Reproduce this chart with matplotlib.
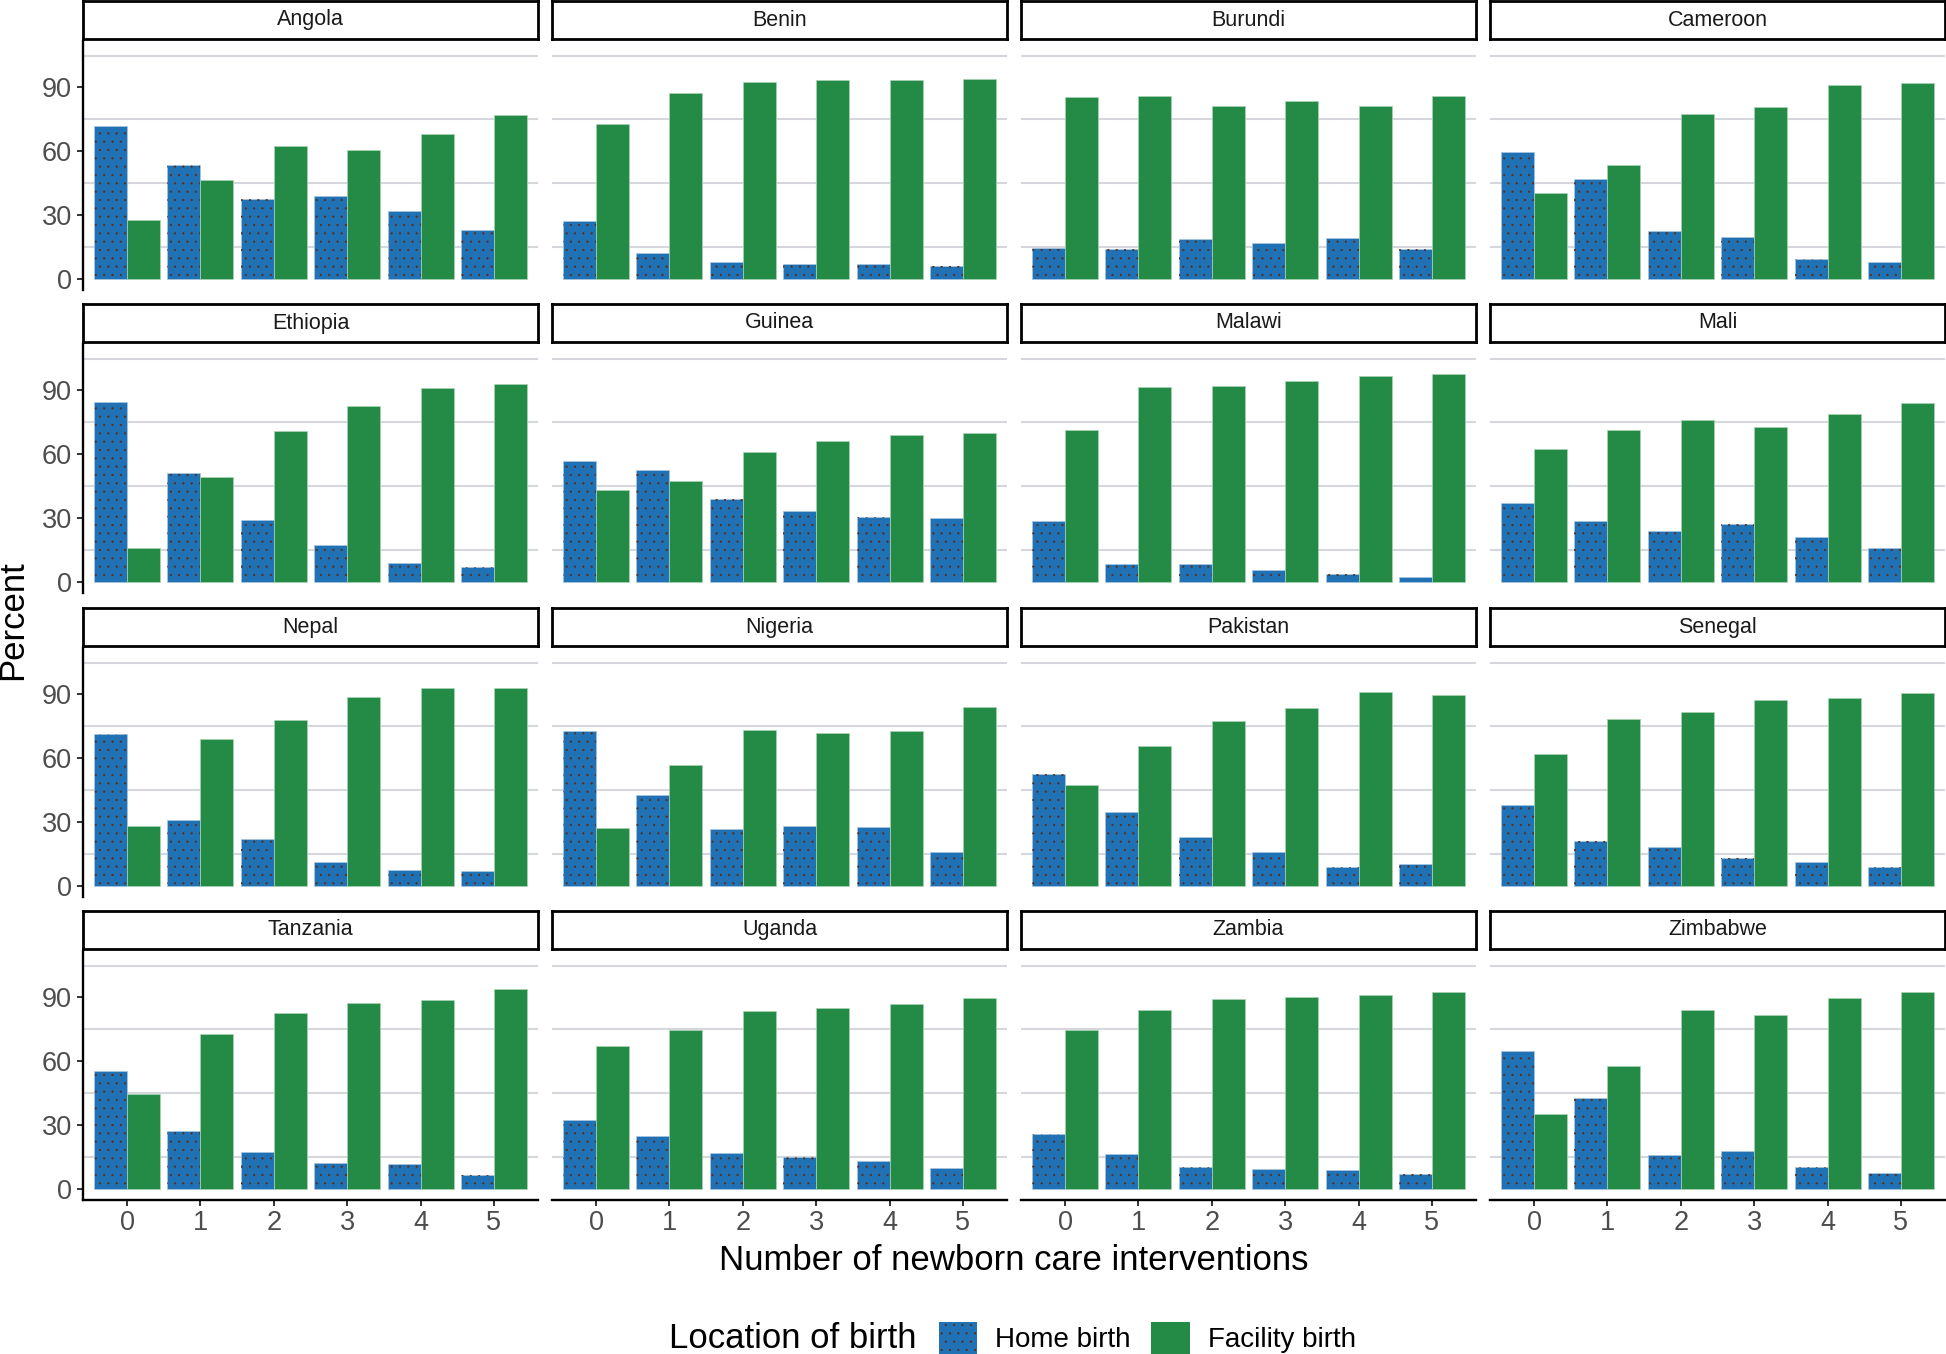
import matplotlib
matplotlib.use("Agg")
import matplotlib.pyplot as plt
import numpy as np
from matplotlib.patches import Patch

# ---------------- data ----------------
countries = ["Angola", "Benin", "Burundi", "Cameroon",
             "Ethiopia", "Guinea", "Malawi", "Mali",
             "Nepal", "Nigeria", "Pakistan", "Senegal",
             "Tanzania", "Uganda", "Zambia", "Zimbabwe"]
interventions = [0, 1, 2, 3, 4, 5]

home_birth = [
    [71.9, 53.4, 37.4, 39.0, 31.7, 22.8],   # Angola
    [27.0, 12.1, 7.7, 6.8, 6.8, 5.8],       # Benin
    [14.3, 14.1, 18.4, 16.7, 19.0, 13.8],   # Burundi
    [59.5, 46.7, 22.3, 19.5, 9.0, 8.0],     # Cameroon
    [84.5, 50.9, 28.9, 17.0, 8.8, 6.8],     # Ethiopia
    [56.7, 52.5, 38.8, 33.3, 30.5, 30.0],   # Guinea
    [28.7, 8.2, 8.2, 5.3, 3.5, 2.0],        # Malawi
    [37.2, 28.7, 23.7, 27.2, 20.9, 15.9],   # Mali
    [71.6, 31.1, 21.8, 11.2, 7.1, 6.8],     # Nepal
    [72.6, 42.8, 26.4, 28.2, 27.6, 15.9],   # Nigeria
    [52.7, 34.6, 22.9, 15.9, 8.9, 10.1],    # Pakistan
    [38.1, 21.2, 18.2, 13.0, 11.2, 8.9],    # Senegal
    [55.5, 27.3, 17.3, 12.0, 11.5, 6.2],    # Tanzania
    [32.5, 24.9, 16.7, 15.0, 13.2, 9.7],    # Uganda
    [25.5, 16.1, 10.3, 9.1, 8.5, 6.8],      # Zambia
    [64.7, 42.5, 15.6, 17.9, 10.3, 7.4],    # Zimbabwe
]
facility_birth = [
    [27.5, 46.5, 62.4, 60.6, 68.0, 77.0],   # Angola
    [72.7, 87.5, 92.4, 93.3, 93.3, 94.1],   # Benin
    [85.5, 85.8, 81.5, 83.4, 81.1, 85.9],   # Burundi
    [40.5, 53.4, 77.6, 80.6, 91.0, 91.9],   # Cameroon
    [15.6, 49.2, 71.0, 82.9, 91.1, 93.2],   # Ethiopia
    [43.2, 47.3, 60.9, 66.3, 69.1, 69.9],   # Guinea
    [71.3, 91.6, 91.9, 94.6, 96.6, 98.0],   # Malawi
    [62.5, 71.3, 76.0, 72.7, 79.0, 84.0],   # Mali
    [28.1, 69.1, 78.2, 88.8, 93.2, 93.2],   # Nepal
    [27.0, 56.8, 73.2, 72.0, 72.6, 84.3],   # Nigeria
    [47.5, 65.6, 77.3, 83.7, 91.3, 89.6],   # Pakistan
    [62.1, 78.5, 81.9, 87.2, 88.4, 90.8],   # Senegal
    [44.5, 72.9, 82.8, 87.6, 88.7, 93.9],   # Tanzania
    [67.1, 74.6, 83.4, 85.1, 86.9, 89.8],   # Uganda
    [74.6, 83.9, 89.2, 90.4, 91.0, 92.7],   # Zambia
    [34.9, 57.7, 84.1, 81.7, 89.8, 92.7],   # Zimbabwe
]
y_ticks = [0, 30, 60, 90]
grid_levels = [15, 45, 75, 105]
series_labels = ["Home birth", "Facility birth"]
legend_title = "Location of birth"
x_title = "Number of newborn care interventions"
y_title = "Percent"

# ---------------- style ----------------
plt.rcParams["font.family"] = ["Liberation Sans", "DejaVu Sans"]
plt.rcParams["hatch.linewidth"] = 0.3
BLUE = "#2171b5"
GREEN = "#238b45"
DOT = "#5a2a14"
plt.rcParams["hatch.color"] = DOT
GRID = "#d6d6dd"
TICKCOL = "#4d4d4d"

W, H = 1946, 1354
fig = plt.figure(figsize=(W / 100, H / 100), dpi=100)
fig.patch.set_facecolor("white")


def rect(x, y, w, h):
    return [x / W, 1 - (y + h) / H, w / W, h / H]


col_left = [83, 552, 1021, 1490]
panel_w = 455
row_top = [41, 344, 648, 951]
panel_h = 249
strip_h = 38
strip_gap = 2
bw = 0.45

for i, country in enumerate(countries):
    r, k = divmod(i, 4)
    ax = fig.add_axes(rect(col_left[k], row_top[r], panel_w, panel_h))
    x = np.array(interventions, dtype=float)
    ax.bar(x - bw / 2, home_birth[i], bw, color=BLUE, edgecolor="#a9c6e0",
           linewidth=0.5, zorder=2)
    ax.bar(x - bw / 2, home_birth[i], bw, fill=False, hatch="..",
           edgecolor=DOT, linewidth=0, zorder=3)
    ax.bar(x + bw / 2, facility_birth[i], bw, color=GREEN, edgecolor="#a9d4b4",
           linewidth=0.5, zorder=2)
    ax.set_xlim(-0.6, 5.6)
    ax.set_ylim(-5.4, 111.9)
    for g in grid_levels:
        ax.axhline(g, color=GRID, linewidth=1.5, zorder=1)
    ax.spines["top"].set_visible(False)
    ax.spines["right"].set_visible(False)
    ax.spines["left"].set_visible(k == 0)
    ax.spines["bottom"].set_visible(r == 3)
    for s in ("left", "bottom"):
        ax.spines[s].set_linewidth(1.7)
        ax.spines[s].set_color("black")
    ax.set_yticks(y_ticks)
    ax.set_xticks(interventions)
    ax.tick_params(axis="y", left=(k == 0), labelleft=(k == 0), length=4.5,
                   width=1.4, color="#333333", labelsize=19.5,
                   labelcolor=TICKCOL, pad=3.5)
    ax.tick_params(axis="x", bottom=(r == 3), labelbottom=(r == 3), length=4.5,
                   width=1.4, color="#333333", labelsize=19.5,
                   labelcolor=TICKCOL, pad=3)
    ax.set_facecolor("white")

    sax = fig.add_axes(rect(col_left[k], row_top[r] - strip_h - strip_gap,
                            panel_w, strip_h))
    sax.set_xticks([])
    sax.set_yticks([])
    sax.set_facecolor("white")
    for sp in sax.spines.values():
        sp.set_linewidth(2.0)
        sp.set_color("black")
    sax.text(0.5, 0.5, country, ha="center", va="center", fontsize=15.5,
             color="#1a1a1a", transform=sax.transAxes)

fig.text(13 / W, 1 - 620 / H, y_title, rotation=90, fontsize=25,
         ha="center", va="center")
fig.text(1014 / W, 1 - 1261 / H, x_title, fontsize=25, ha="center", va="center")

fig.text(669 / W, 1 - 1348 / H, legend_title, fontsize=25, ha="left",
         va="baseline")
handles = [Patch(facecolor=BLUE, edgecolor=DOT, hatch="..", linewidth=0),
           Patch(facecolor=GREEN, linewidth=0)]
fig.legend(handles, series_labels, loc="lower left",
           bbox_to_anchor=(939 / W, 0.0), ncol=2, frameon=False, fontsize=20,
           handlelength=1.37, handleheight=1.37, handletextpad=0.65,
           columnspacing=0.75, borderpad=0, borderaxespad=0)

fig.savefig("out.png", dpi=100, facecolor="white")
